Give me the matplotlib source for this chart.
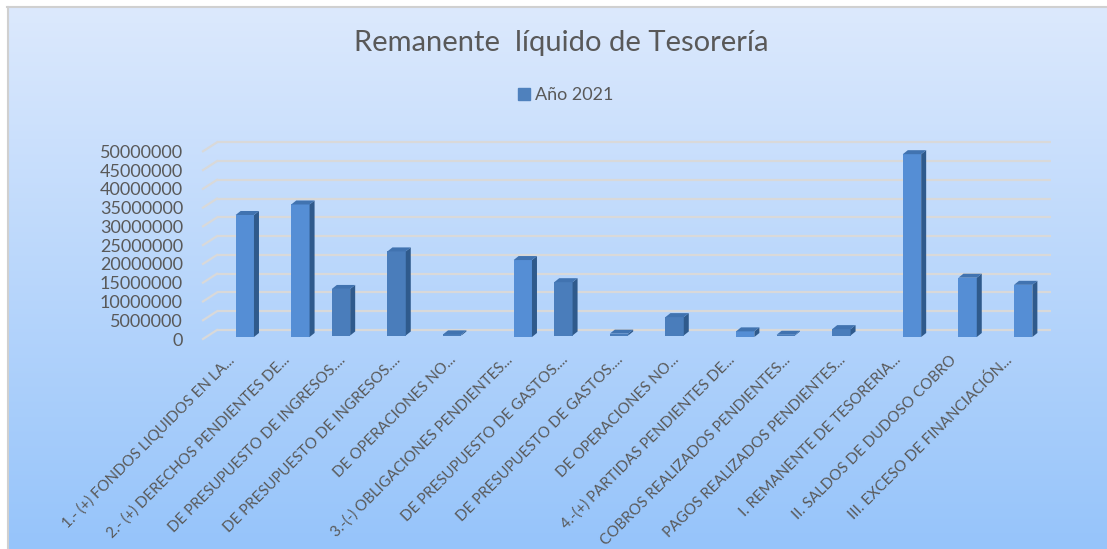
import numpy as np
import matplotlib
matplotlib.use("Agg")
import matplotlib.pyplot as plt
from matplotlib.patches import Polygon, Rectangle
from matplotlib.lines import Line2D
from matplotlib.transforms import ScaledTranslation, IdentityTransform

plt.rcParams['font.family'] = ['Lato', 'DejaVu Sans']

# ---------------- data ----------------
title = "Remanente  líquido de Tesorería"
series_name = "Año 2021"
categories = [
    "1.- (+) FONDOS LIQUIDOS EN LA...",
    "2.- (+) DERECHOS PENDIENTES DE...",
    "DE PRESUPUESTO DE INGRESOS....",
    "DE PRESUPUESTO DE INGRESOS....",
    "DE OPERACIONES NO...",
    "3.-(-) OBLIGACIONES PENDIENTES...",
    "DE PRESUPUESTO DE GASTOS....",
    "DE PRESUPUESTO DE GASTOS....",
    "DE OPERACIONES NO...",
    "4.-(+) PARTIDAS PENDIENTES DE...",
    "COBROS REALIZADOS PENDIENTES...",
    "PAGOS REALIZADOS PENDIENTES...",
    "I. REMANENTE DE TESORERIA...",
    "II. SALDOS DE DUDOSO COBRO",
    "III. EXCESO DE FINANCIACIÓN...",
]
values = [32500000, 35300000, 12400000, 22400000, 300000,
          20500000, 14200000, 500000, 4900000, 1500000,
          200000, 1700000, 48700000, 15800000, 13900000]
y_ticks = [0, 5000000, 10000000, 15000000, 20000000, 25000000,
           30000000, 35000000, 40000000, 45000000, 50000000]
main_item = [True, True, False, False, False, True, False, False, False,
             True, False, False, True, True, True]

# ---------------- style ----------------
W, H, DPI = 1107, 549, 100
TXT = '#595959'
FRONT_MAIN, FRONT_SUB = '#558ed5', '#4a7dbb'
SIDE, TOP = '#2f5a8c', '#4173b0'
GRID = '#d9d9d9'
SUB_SHIFT_PX = (-15, 1.5)   # sub-item bars sit slightly left / higher

fig = plt.figure(figsize=(W / DPI, H / DPI), dpi=DPI)
fig.patch.set_facecolor('white')

# background gradient + border
bg = fig.add_axes([0, 0, 1, 1])
bg.set_xlim(0, W)
bg.set_ylim(H, 0)
bg.axis('off')
c_top = np.array([220, 233, 253]) / 255
c_bot = np.array([150, 196, 250]) / 255
t = np.linspace(0, 1, 256)[:, None, None]
grad = c_top[None, None, :] * (1 - t) + c_bot[None, None, :] * t
bg.imshow(grad, extent=[8, W, H, 7], aspect='auto', interpolation='bicubic')
bg.plot([7.5, 7.5], [6.5, H], color='#d0d0d0', lw=1.5)
bg.plot([7, W], [6.5, 6.5], color='#d0d0d0', lw=1.5)

# main axes (front plane)
left_px, right_px = 217, 1051
y0_px, ytop_px = 337, 149.3
ax = fig.add_axes([left_px / W, 1 - y0_px / H,
                   (right_px - left_px) / W, (y0_px - ytop_px) / H])
ax.set_xlim(-0.5, len(categories) - 0.5)
ax.set_ylim(0, max(y_ticks))
ax.axis('off')
ax.patch.set_alpha(0)

back = ax.transData + ScaledTranslation(0, 7 / DPI, fig.dpi_scale_trans)
ax.hlines(y_ticks, -0.5, len(categories) - 0.5, transform=back,
          colors=GRID, lw=1.6, zorder=1, clip_on=False)
for v in y_ticks:
    X, Y = ax.transData.transform((-0.5, v))
    ax.add_artist(Line2D([X - 14, X], [Y - 2, Y + 7], color=GRID, lw=1.6,
                         transform=IdentityTransform(), clip_on=False, zorder=1))
    ax.text(-0.5, v, f"{v}", ha='right', va='center', fontsize=13, color=TXT,
            transform=ax.transData + ScaledTranslation(-34 / DPI, -3.5 / DPI,
                                                       fig.dpi_scale_trans))

xs = np.arange(len(categories))
bw = 0.33
dx, dy = 5, 4
for x, v, m in zip(xs, values, main_item):
    sx, sy = (0, 0) if m else SUB_SHIFT_PX
    tr = ax.transData + ScaledTranslation(sx / DPI, sy / DPI, fig.dpi_scale_trans)
    ax.bar([x], [v], width=bw, color=FRONT_MAIN if m else FRONT_SUB,
           zorder=3, linewidth=0, transform=tr)
    X0, Y0 = tr.transform((x - bw / 2, 0))
    X1, Y1 = tr.transform((x + bw / 2, v))
    side = Polygon([(X1, Y0), (X1 + dx, Y0 + dy), (X1 + dx, Y1 + dy), (X1, Y1)],
                   closed=True, facecolor=SIDE, edgecolor='none',
                   transform=IdentityTransform(), clip_on=False, zorder=3)
    top = Polygon([(X0, Y1), (X1, Y1), (X1 + dx, Y1 + dy), (X0 + dx, Y1 + dy)],
                  closed=True, facecolor=TOP, edgecolor='none',
                  transform=IdentityTransform(), clip_on=False, zorder=3)
    ax.add_artist(side)
    ax.add_artist(top)

for x, lab in zip(xs, categories):
    ax.text(x, 0, lab, rotation=45, rotation_mode='anchor', ha='right',
            va='center', fontsize=10.8, color=TXT,
            transform=ax.transData + ScaledTranslation(-13 / DPI, -21 / DPI,
                                                       fig.dpi_scale_trans))

fig.text(561 / W, 1 - 43 / H, title, ha='center', va='center',
         fontsize=21, color=TXT)
fig.legend([Rectangle((0, 0), 1, 1, color='#4f81bd')], [series_name],
           loc='center', bbox_to_anchor=(566 / W, 1 - 95 / H), frameon=False,
           handlelength=0.65, handleheight=0.65, handletextpad=0.3,
           fontsize=13, labelcolor=TXT)

fig.savefig('out.png', dpi=DPI, facecolor='white')
